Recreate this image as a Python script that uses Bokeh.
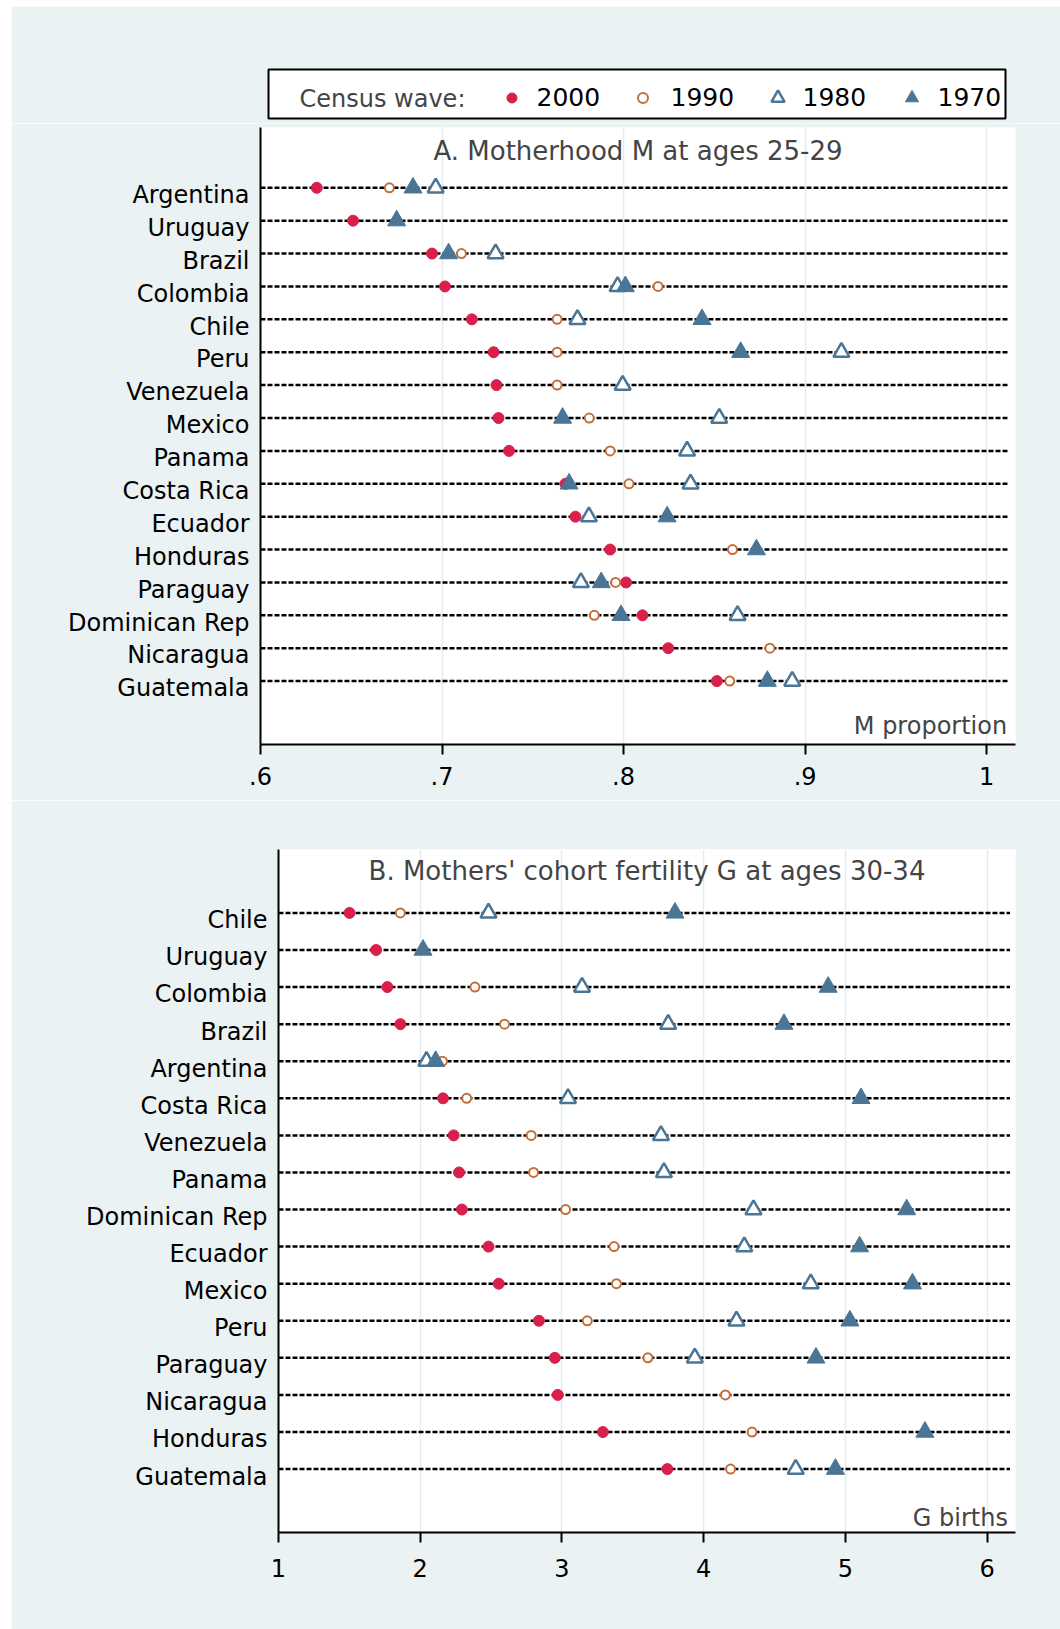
from bokeh.plotting import figure
from bokeh.models import Range1d, FixedTicker, Label, Legend, LegendItem, ColumnDataSource, Spacer
from bokeh.layouts import column, row
from bokeh.embed import file_html
from bokeh.resources import INLINE

nan = float("nan")

# ---------------- data ----------------
countries_a = ["Argentina", "Uruguay", "Brazil", "Colombia", "Chile", "Peru", "Venezuela",
               "Mexico", "Panama", "Costa Rica", "Ecuador", "Honduras", "Paraguay",
               "Dominican Rep", "Nicaragua", "Guatemala"]
m_2000 = [0.631, 0.651, 0.6945, 0.7016, 0.7164, 0.7284, 0.7300, 0.7311, 0.7369, 0.7680,
          0.7735, 0.7926, 0.8014, 0.8104, 0.8246, 0.8514]
m_1990 = [0.671, nan, 0.7107, 0.8190, 0.7634, 0.7634, 0.7634, 0.7811, 0.7926, 0.8030,
          nan, 0.8600, 0.7956, 0.7839, 0.8806, 0.8585]
m_1980 = [0.6965, nan, 0.7295, 0.7967, 0.7746, 0.9200, 0.7995, 0.8527, 0.8350, 0.8369,
          0.7809, nan, 0.7765, 0.8628, nan, 0.8929]
m_1970 = [0.684, 0.675, 0.7036, 0.8010, 0.8432, 0.8645, nan, 0.7664, nan, 0.7700,
          0.8240, 0.8732, 0.7877, 0.7986, nan, 0.8792]

countries_b = ["Chile", "Uruguay", "Colombia", "Brazil", "Argentina", "Costa Rica", "Venezuela",
               "Panama", "Dominican Rep", "Ecuador", "Mexico", "Peru", "Paraguay",
               "Nicaragua", "Honduras", "Guatemala"]
g_2000 = [1.501, 1.689, 1.768, 1.860, nan, 2.161, 2.236, 2.274, 2.294, 2.482, 2.554, 2.838,
          2.950, 2.971, 3.289, 3.744]
g_1990 = [1.860, nan, 2.386, 2.595, 2.157, 2.328, 2.783, 2.800, 3.026, 3.368, 3.385, 3.179,
          3.607, 4.154, 4.342, 4.190]
g_1980 = [2.482, nan, 3.142, 3.750, 2.044, 3.043, 3.699, 3.720, 4.352, 4.287, 4.756, 4.232,
          3.938, nan, nan, 4.650]
g_1970 = [3.798, 2.020, 4.879, 4.567, 2.109, 5.111, nan, nan, 5.433, 5.101, 5.474, 5.032,
          4.793, nan, 5.562, 4.930]

waves = ["2000", "1990", "1980", "1970"]
ticks_a = [0.6, 0.7, 0.8, 0.9, 1.0]
tick_labels_a = [".6", ".7", ".8", ".9", "1"]
ticks_b = [1, 2, 3, 4, 5, 6]

# ---------------- style ----------------
BG = "#EAF2F3"
GRID = "#E3EDEE"
RED = "#D8204B"
ORANGE = "#C46F38"
BLUE = "#4B7595"
FONT = "DejaVu Sans"
W = 1049

marker_styles = [
    dict(marker="circle", size=11, fill_color=RED, line_color=RED, line_width=1),
    dict(marker="circle", size=9, fill_color="white", line_color=ORANGE, line_width=2),
    dict(marker="triangle", size=16, fill_color="white", line_color=BLUE, line_width=2.5),
    dict(marker="triangle", size=18, fill_color=BLUE, line_color=BLUE, line_width=1),
]
# per legend entry: (screen x of glyph box in the box, glyph box size, label standoff, screen y)
legend_layout = [(230.5, 25, 13, 6), (361.5, 25, 16, 6), (492.5, 33, 9, 4), (626.5, 33, 10, 4)]


def no_align(p):
    try:
        p.frame_align = False
    except Exception:
        pass


# ---------------- legend box ----------------
figL = figure(width=W, height=117, x_range=Range1d(0, 737), y_range=Range1d(0, 49),
              x_axis_type=None, y_axis_type=None, toolbar_location=None,
              output_backend="svg", min_border_left=257, min_border_right=55,
              min_border_top=63, min_border_bottom=5, background_fill_color="white",
              border_fill_color=BG, outline_line_color="black", outline_line_width=2)
no_align(figL)
figL.xgrid.visible = False
figL.ygrid.visible = False
for lab, st, (lx, g, so, ly) in zip(waves, marker_styles, legend_layout):
    # legend proxy: one NaN point, never drawn in the frame
    r = figL.scatter(x=[nan], y=[nan], **st)
    leg = Legend(items=[LegendItem(label=lab, renderers=[r])], orientation="horizontal",
                 location=(lx, ly), glyph_width=g, glyph_height=g, label_standoff=so,
                 padding=0, margin=0, border_line_color=None, background_fill_alpha=0,
                 label_text_font=FONT, label_text_font_size="25px", label_text_color="black")
    figL.add_layout(leg)
figL.add_layout(Label(x=31, y=20, text="Census wave:", text_font=FONT,
                      text_font_size="24px", text_baseline="middle", text_align="left"))


def panel(countries, series, ticks, tick_labels, x0, x1, xline, gap_top, gap_bot,
          height, left, top, bottom, title, title_y, xtitle, xtitle_x, xtitle_y, lab_off,
          tick_standoff):
    n = len(countries)
    p = figure(width=W, height=height, x_range=Range1d(x0, x1),
               y_range=Range1d(n - 1 + gap_bot, -gap_top),
               toolbar_location=None, output_backend="svg",
               min_border_left=left, min_border_right=45, min_border_top=top,
               min_border_bottom=bottom, background_fill_color="white",
               border_fill_color=BG, outline_line_color=None)
    no_align(p)
    rows = list(range(n))
    p.segment(x0=[x0] * n, y0=rows, x1=[xline] * n, y1=rows, line_color="black",
              line_width=2.5, line_dash="5 2")
    for vals, st in zip(series, marker_styles):
        src = ColumnDataSource(dict(x=vals, y=rows))
        p.scatter("x", "y", source=src, **st)

    p.ygrid.visible = False
    p.xgrid.grid_line_color = GRID
    p.xgrid.grid_line_width = 1.5
    p.xgrid.ticker = FixedTicker(ticks=ticks)

    ax = p.xaxis[0]
    ax.ticker = FixedTicker(ticks=ticks)
    if tick_labels is not None:
        ov = {}
        for t, l in zip(ticks, tick_labels):
            ov[float(t)] = l
        ax.major_label_overrides = ov
    ax.axis_line_width = 2
    ax.axis_line_color = "black"
    ax.major_tick_line_width = 2
    ax.major_tick_out = 10
    ax.major_tick_in = 0
    ax.minor_tick_line_color = None
    ax.major_label_standoff = tick_standoff
    ax.major_label_text_font = FONT
    ax.major_label_text_font_size = "24px"
    ax.major_label_text_color = "black"

    ay = p.yaxis[0]
    yt = [i + lab_off for i in rows]
    ay.ticker = FixedTicker(ticks=yt)
    ov = {}
    for t, c in zip(yt, countries):
        ov[t] = c
        ov[repr(t)] = c
    ay.major_label_overrides = ov
    ay.axis_line_width = 2
    ay.axis_line_color = "black"
    ay.major_tick_line_color = None
    ay.minor_tick_line_color = None
    ay.major_tick_out = 0
    ay.major_tick_in = 0
    ay.major_label_standoff = 11
    ay.major_label_text_font = FONT
    ay.major_label_text_font_size = "24px"
    ay.major_label_text_color = "black"

    p.add_layout(Label(x=(x0 + x1) / 2, y=title_y, text=title, text_font=FONT,
                       text_font_size="26px", text_align="center", text_baseline="middle"))
    p.add_layout(Label(x=xtitle_x, y=xtitle_y, text=xtitle, text_font=FONT,
                       text_font_size="24px", text_align="right", text_baseline="middle"))
    return p


figA = panel(countries_a, [m_2000, m_1990, m_1980, m_1970], ticks_a, tick_labels_a,
             0.6, 1.0159, 1.0124, 1.833, 1.927, 677, 249, 4, 56,
             "A. Motherhood M at ages 25-29", -1.107, "M proportion", 1.0113, 16.36, 0.22, 12)
figB = panel(countries_b, [g_2000, g_1990, g_1980, g_1970], ticks_b, None,
             1.0, 6.201, 6.162, 1.71, 1.71, 829, 267, 49, 97,
             "B. Mothers' cohort fertility G at ages 30-34", -1.12, "G births", 6.148, 16.31, 0.2, 16)

layout = column(Spacer(width=1060, height=6),
                row(Spacer(width=11, height=1623), column(figL, figA, figB, spacing=0), spacing=0),
                spacing=0)
open("out.html", "w").write(file_html(layout, INLINE))
